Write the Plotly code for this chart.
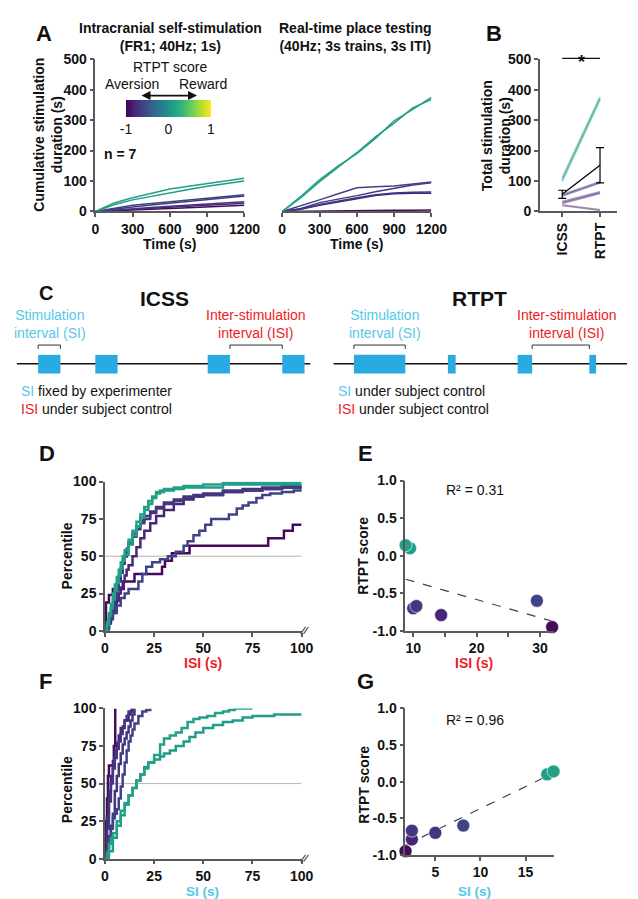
import numpy as np
import plotly.graph_objects as go
from plotly.colors import sample_colorscale

W, H = 638, 899
FONT = "Liberation Sans, Arial, Helvetica, sans-serif"
INK = "#111111"
AXC = "#5a5a5a"
CYAN = "#55c8e8"
RED = "#ec1c24"
BLOCK = "#29abe2"

# ---------------- data ----------------
rtpt_score = [0.14, 0.10, -0.60, -0.67, -0.70, -0.79, -0.95]
median_si = [18.1, 17.4, 8.1, 2.4, 5.0, 2.4, 1.7]
median_isi = [8.8, 9.5, 29.5, 10.5, 10.0, 14.4, 31.9]

time_s = [0, 150, 300, 450, 600, 750, 900, 1050, 1200]
icss_cum = [
    [0, 28, 45, 60, 74, 83, 91, 100, 109],
    [0, 22, 38, 50, 61, 72, 83, 92, 100],
    [0, 10, 20, 26, 32, 37, 42, 48, 55],
    [0, 8, 15, 21, 27, 33, 39, 45, 51],
    [0, 5, 9, 13, 17, 21, 25, 28, 32],
    [0, 4, 7, 10, 14, 17, 20, 24, 27],
    [0, 3, 5, 8, 10, 12, 15, 17, 20],
]
rtpt_cum = [
    [0, 50, 104, 150, 190, 240, 298, 335, 375],
    [0, 45, 98, 145, 193, 245, 290, 340, 368],
    [0, 18, 38, 58, 78, 81, 84, 90, 97],
    [0, 10, 29, 40, 52, 65, 77, 87, 94],
    [0, 8, 23, 35, 45, 55, 61, 63, 64],
    [0, 7, 20, 32, 42, 52, 58, 60, 60],
    [0, 1, 2, 2, 3, 3, 4, 4, 5],
]
time_ticks = [0, 300, 600, 900, 1200]
session_labels = ["ICSS", "RTPT"]

isi_x = [
    [0, 1, 2, 3, 4, 5, 6, 7, 8, 9, 10, 12, 14, 16, 18, 20, 22, 24, 26, 28, 30, 35, 40, 50, 60, 100],
    [0, 1, 2, 3, 4, 5, 6, 7, 8, 9, 10, 12, 14, 16, 18, 20, 22, 24, 26, 28, 30, 35, 40, 50, 60, 100],
    [0, 2, 4, 6, 8, 10, 12, 17, 19, 21, 24, 28, 32, 36, 40, 42, 45, 48, 51, 54, 60, 63, 67, 70, 73, 77, 80, 84, 90, 96, 100],
    [0, 1, 2, 3, 4, 5, 6, 7, 8, 9, 10, 11, 12, 14, 16, 18, 20, 23, 26, 30, 35, 40, 45, 50, 60, 70, 80, 90, 100],
    [0, 1, 2, 3, 4, 5, 6, 7, 8, 9, 10, 11, 12, 14, 16, 18, 20, 23, 26, 30, 35, 40, 45, 50, 60, 70, 80, 90, 100],
    [0, 1, 2, 3, 4, 5, 6, 7, 8, 9, 10, 11, 12, 14, 16, 18, 20, 23, 26, 30, 35, 40, 45, 50, 60, 70, 80, 90, 100],
    [0, 0.5, 2, 4, 9.5, 15, 29, 30.5, 34, 43, 83, 91, 95.5, 100],
]
isi_pct = [
    [0, 6, 12, 18, 25, 31, 36, 41, 46, 50, 54, 61, 67, 73, 78, 83, 87, 90, 93, 94, 95, 96, 97, 98, 99, 99],
    [0, 4, 10, 15, 21, 27, 32, 37, 42, 47, 51, 58, 64, 70, 76, 81, 85, 89, 92, 93, 94, 95, 96, 96, 98, 98],
    [0, 8, 12, 17, 22, 25, 28, 33, 38, 43, 46, 48, 50, 53, 57, 60, 64, 67, 71, 75, 75, 78, 82, 84, 86, 89, 91, 92, 93, 94, 95],
    [0, 3, 7, 12, 17, 23, 29, 35, 41, 46, 50, 54, 58, 63, 68, 72, 75, 79, 82, 85, 87, 89, 90, 91, 93, 94, 95, 96, 96],
    [0, 2, 6, 10, 15, 21, 27, 33, 39, 45, 50, 55, 59, 65, 70, 74, 77, 80, 83, 86, 88, 90, 91, 92, 94, 95, 96, 97, 97],
    [0, 2, 5, 8, 12, 16, 20, 25, 29, 33, 37, 41, 44, 50, 56, 62, 67, 72, 77, 81, 85, 88, 90, 91, 93, 94, 95, 96, 97],
    [0, 19, 24, 28, 33, 38, 43, 47, 52, 57, 62, 67, 71, 71],
]
si_x = [
    [0, 1, 2, 3, 4, 6, 8, 10, 12, 14, 16, 18, 20, 22, 25, 28, 30, 33, 36, 39, 42, 45, 48, 52, 56, 60, 63, 66, 75],
    [0, 2, 4, 6, 8, 10, 12, 14, 16, 18, 20, 22, 25, 28, 30, 33, 36, 40, 43, 46, 50, 55, 60, 65, 70, 75, 86, 100],
    [0, 1, 2, 3, 4, 5, 6, 7, 8, 9, 10, 11, 12, 13, 14, 15, 17, 19, 21, 23],
    [0, 1, 2, 3, 4, 5, 6, 7, 8, 9, 10, 11, 12, 13.5],
    [0, 1, 2, 3, 4, 5, 6, 7, 8, 9, 10, 11, 12, 13, 14, 15],
    [0, 1, 2, 3, 4, 5, 6, 7, 8, 10, 12, 13, 14],
    [0, 0.5, 1, 1.5, 2, 4.5, 5.2],
]
si_pct = [
    [0, 4, 10, 14, 17, 25, 32, 37, 42, 47, 52, 56, 60, 64, 69, 76, 80, 82, 84, 87, 91, 93, 94, 95, 97, 98, 99, 100, 100],
    [0, 5, 14, 22, 29, 36, 42, 47, 52, 56, 61, 64, 66, 68, 70, 72, 75, 78, 81, 84, 87, 89, 91, 92, 94, 95, 96, 96],
    [0, 5, 12, 20, 27, 30, 33, 40, 48, 56, 64, 72, 78, 82, 86, 90, 95, 98, 99, 100],
    [0, 20, 38, 50, 60, 67, 73, 78, 83, 88, 92, 95, 98, 100],
    [0, 8, 15, 22, 30, 45, 55, 63, 70, 76, 80, 84, 88, 92, 96, 100],
    [0, 28, 45, 55, 65, 72, 77, 82, 87, 92, 96, 98, 100],
    [0, 25, 40, 55, 62, 75, 100],
]

# ---------------- helpers (pixel -> paper) ----------------
def px(x):
    return x / W


def py(y):
    return 1 - y / H


colors = sample_colorscale("Viridis", [(s + 1) / 2 for s in rtpt_score])
order = list(range(len(rtpt_score)))[::-1]  # draw teal last (on top)

tickfont = dict(family=FONT, size=14, color=INK, weight="bold")


def axstyle(**kw):
    d = dict(showline=True, linecolor=AXC, linewidth=1.5, ticks="outside", ticklen=4,
             tickwidth=1.5, tickcolor=AXC, showgrid=False, zeroline=False,
             tickfont=tickfont, fixedrange=True)
    d.update(kw)
    return d


fig = go.Figure()

# ---- A: cumulative stimulation ----
for i in order:
    fig.add_trace(go.Scatter(x=time_s, y=icss_cum[i], mode="lines",
                             line=dict(color=colors[i], width=1.5),
                             xaxis="x", yaxis="y", showlegend=False, hoverinfo="skip"))
    fig.add_trace(go.Scatter(x=time_s, y=rtpt_cum[i], mode="lines",
                             line=dict(color=colors[i], width=1.5),
                             xaxis="x2", yaxis="y2", showlegend=False, hoverinfo="skip"))

# ---- B: totals ----
icss_total = [c[-1] for c in icss_cum]
rtpt_total = [c[-1] for c in rtpt_cum]
for i in order:
    fig.add_trace(go.Scatter(x=[0, 1], y=[icss_total[i], rtpt_total[i]], mode="lines",
                             line=dict(color=colors[i], width=2), opacity=0.5,
                             xaxis="x3", yaxis="y3", showlegend=False, hoverinfo="skip"))
means = [np.mean(icss_total), np.mean(rtpt_total)]
sems = [np.std(icss_total, ddof=1) / np.sqrt(len(icss_total)),
        np.std(rtpt_total, ddof=1) / np.sqrt(len(rtpt_total))]
fig.add_trace(go.Scatter(x=[0, 1], y=means, mode="lines",
                         line=dict(color="black", width=1.3),
                         error_y=dict(type="data", array=sems, color="black", thickness=1.2, width=4),
                         xaxis="x3", yaxis="y3", showlegend=False, hoverinfo="skip"))

# ---- D & F: CDFs ----
for ax, xs, ys in (("4", isi_x, isi_pct), ("6", si_x, si_pct)):
    fig.add_trace(go.Scatter(x=[0, 100], y=[50, 50], mode="lines",
                             line=dict(color="#b5b5b5", width=1),
                             xaxis="x" + ax, yaxis="y" + ax, showlegend=False, hoverinfo="skip"))
    for i in order:
        fig.add_trace(go.Scatter(x=xs[i], y=ys[i], mode="lines", line_shape="hv",
                                 line=dict(color=colors[i], width=2.5),
                                 xaxis="x" + ax, yaxis="y" + ax, showlegend=False, hoverinfo="skip"))

# ---- E & G: scatter + regression ----
for ax, xv, cb in (("5", median_isi, True), ("7", median_si, False)):
    coef = np.polyfit(xv, rtpt_score, 1)
    xl = [min(xv), max(xv)]
    fig.add_trace(go.Scatter(x=xl, y=list(np.polyval(coef, xl)), mode="lines",
                             line=dict(color="#444444", width=1.2, dash="dash"),
                             xaxis="x" + ax, yaxis="y" + ax, showlegend=False, hoverinfo="skip"))
    marker = dict(colorscale="Viridis", cmin=-1, cmax=1, size=13,
                  line=dict(color="white", width=0.6), showscale=cb,
                  color=[rtpt_score[i] for i in order])
    if cb:
        marker["colorbar"] = dict(orientation="h", x=px(161.5), xanchor="center",
                                  y=py(86), yanchor="top", len=85, lenmode="pixels",
                                  thickness=17, thicknessmode="pixels",
                                  tickvals=[-1, 0, 1], ticktext=["-1", "0", "1"], ticks="",
                                  tickfont=dict(family=FONT, size=14, color=INK),
                                  outlinewidth=0, xpad=0, ypad=0)
    fig.add_trace(go.Scatter(x=[xv[i] for i in order], y=[rtpt_score[i] for i in order],
                             mode="markers", cliponaxis=False, marker=marker,
                             xaxis="x" + ax, yaxis="y" + ax, showlegend=False, hoverinfo="skip"))

# ---------------- axes ----------------
b_range = [-0.59, 1.46]
layout_axes = dict(
    xaxis=axstyle(domain=[px(86), px(240)], range=[0, 1200], tickvals=time_ticks, anchor="y"),
    yaxis=axstyle(domain=[py(199), py(44)], range=[0, 500], dtick=100, anchor="x"),
    xaxis2=axstyle(domain=[px(279), px(433)], range=[0, 1200], tickvals=time_ticks, anchor="y2"),
    yaxis2=dict(domain=[py(199), py(44)], range=[0, 500], visible=False, anchor="x2", fixedrange=True),
    xaxis3=axstyle(domain=[px(545), px(625)], range=b_range, tickvals=[0, 1],
                   ticktext=session_labels, tickangle=-90, anchor="y3"),
    yaxis3=axstyle(domain=[py(199), py(44)], range=[0, 500], dtick=100, anchor="x3"),
    xaxis4=axstyle(domain=[px(96), px(299)], range=[0, 100], dtick=25, anchor="y4"),
    yaxis4=axstyle(domain=[py(626), py(474)], range=[0, 100], dtick=25, anchor="x4"),
    xaxis5=axstyle(domain=[px(406), px(560)], range=[8.75, 32.27], tickvals=[10, 20, 30], anchor="y5",
                   minor=dict(ticks="outside", dtick=5, tick0=0, ticklen=4, tickcolor=AXC, tickwidth=1.5)),
    yaxis5=axstyle(domain=[py(626), py(473)], range=[-1, 1], tickvals=[-1, -0.5, 0, 0.5, 1],
                   ticktext=["-1.0", "-0.5", "0.0", "0.5", "1.0"], anchor="x5"),
    xaxis6=axstyle(domain=[px(96), px(299)], range=[0, 100], dtick=25, anchor="y6"),
    yaxis6=axstyle(domain=[py(858), py(705)], range=[0, 100], dtick=25, anchor="x6"),
    xaxis7=axstyle(domain=[px(406), px(560)], range=[1.67, 18.2], tickvals=[5, 10, 15], anchor="y7"),
    yaxis7=axstyle(domain=[py(854), py(705)], range=[-1, 1], tickvals=[-1, -0.5, 0, 0.5, 1],
                   ticktext=["-1.0", "-0.5", "0.0", "0.5", "1.0"], anchor="x7"),
)

# ---------------- annotations ----------------
anns = []


def ann(text, x, y, size=14, color=INK, bold=False, xanchor="center", yanchor="middle",
        angle=0, align="center"):
    anns.append(dict(text=text, x=px(x), y=py(y), xref="paper", yref="paper",
                     showarrow=False, xanchor=xanchor, yanchor=yanchor, textangle=angle,
                     align=align,
                     font=dict(family=FONT, size=size, color=color,
                               weight="bold" if bold else "normal")))


for letter, x, y, s in (("A", 33, 18, 22), ("B", 498, 18, 22), ("C", 35, 282, 20),
                        ("D", 36, 445, 22), ("E", 365, 445, 22), ("F", 35, 678, 22),
                        ("G", 365, 678, 22)):
    ann(letter, x, y, size=s, bold=True)

ann("Intracranial self-stimulation<br>(FR1; 40Hz; 1s)", 164, 21, bold=True)
ann("Real-time place testing<br>(40Hz; 3s trains, 3s ITI)", 355, 21, bold=True)
ann("RTPT score", 163, 52)
ann("Aversion", 124, 69)
ann("Reward", 197, 69)
ann("n = 7", 93, 140, bold=True, xanchor="left")
ann("Cumulative stimulation<br>duration (s)", 37, 121, bold=True, angle=-90)
ann("Time (s)", 163, 232, bold=True)
ann("Time (s)", 356, 232, bold=True)
ann("Total stimulation<br>duration (s)", 499, 122, bold=True, angle=-90)

ann("ICSS", 157, 288, size=21, bold=True)
ann("RTPT", 483, 288, size=21, bold=True)
ann("Stimulation<br>interval (SI)", 39, 314, color=CYAN)
ann("Inter-stimulation<br>interval (ISI)", 252, 314, color=RED)
ann("Stimulation<br>interval (SI)", 385, 314, color=CYAN)
ann("Inter-stimulation<br>interval (ISI)", 573, 314, color=RED)
ann(f'<span style="color:{CYAN}">SI</span> fixed by experimenter<br>'
    f'<span style="color:{RED}">ISI</span> under subject control', 7, 391,
    xanchor="left", align="left")
ann(f'<span style="color:{CYAN}">SI</span> under subject control<br>'
    f'<span style="color:{RED}">ISI</span> under subject control', 334, 391,
    xanchor="left", align="left")

ann("Percentile", 57, 550, bold=True, angle=-90)
ann("Percentile", 57, 788, bold=True, angle=-90)
ann("RTPT score", 363, 550, bold=True, angle=-90)
ann("RTPT score", 363, 783, bold=True, angle=-90)
ann("ISI (s)", 197, 659, bold=True, color=RED)
ann("ISI (s)", 477, 659, bold=True, color=RED)
ann("SI (s)", 197, 891, size=13.5, bold=True, color=CYAN)
ann("SI (s)", 477, 891, size=13.5, bold=True, color=CYAN)
ann("R² = 0.31", 478, 483)
ann("R² = 0.96", 478, 717)

# significance star in B
anns.append(dict(text="*", x=0.5, y=py(47), xref="x3", yref="paper", showarrow=False,
                 xanchor="center", yanchor="middle",
                 font=dict(family=FONT, size=18, color=INK, weight="bold")))

# double arrow
anns.append(dict(text="", x=px(191), y=py(81), xref="paper", yref="paper",
                 ax=-57, ay=0, axref="pixel", ayref="pixel",
                 showarrow=True, arrowhead=2, arrowside="end+start", arrowsize=1,
                 arrowwidth=1.8, arrowcolor=INK))

# ---------------- shapes ----------------
shapes = []


def pline(x0, y0, x1, y1, color=INK, width=1.5):
    shapes.append(dict(type="line", xref="paper", yref="paper", x0=px(x0), y0=py(y0),
                       x1=px(x1), y1=py(y1), line=dict(color=color, width=width)))


def prect(x0, y0, x1, y1, color):
    shapes.append(dict(type="rect", xref="paper", yref="paper", x0=px(x0), y0=py(y0),
                       x1=px(x1), y1=py(y1), fillcolor=color, line=dict(width=0)))


# schematic timelines (pixel layout of the diagram)
icss_blocks = [(27, 50), (86, 109), (202, 225), (279, 302)]
rtpt_blocks = [(353, 406), (450, 458), (522, 537), (596, 603)]
for (x0, x1), blocks in (((5, 308), icss_blocks), ((332, 635), rtpt_blocks)):
    pline(x0, 354, x1, 354, INK, 1.5)
    for b0, b1 in blocks:
        prect(b0, 345, b1, 364, BLOCK)
    for a, b in ((blocks[0][0], blocks[0][1]), (blocks[2][1], blocks[3][0])):
        pline(a, 335, b, 335, "#333333", 1)
        pline(a, 335, a, 339, "#333333", 1)
        pline(b, 335, b, 339, "#333333", 1)

# axis-break marks on D and F
for yb in (629, 861):
    pline(298, yb, 303, yb - 7, AXC, 1.2)
    pline(301, yb, 306, yb - 7, AXC, 1.2)

# significance bar in B
d0 = (0 - b_range[0]) / (b_range[1] - b_range[0])
d1 = (1 - b_range[0]) / (b_range[1] - b_range[0])
shapes.append(dict(type="line", xref="x3 domain", yref="y3 domain", x0=d0, x1=d1,
                   y0=1.005, y1=1.005, line=dict(color=INK, width=1.2)))

fig.update_layout(
    width=W, height=H, margin=dict(l=0, r=0, t=0, b=0),
    paper_bgcolor="white", plot_bgcolor="white",
    showlegend=False, annotations=anns, shapes=shapes,
    font=dict(family=FONT, color=INK),
    **layout_axes,
)

fig.write_html("out.html")
